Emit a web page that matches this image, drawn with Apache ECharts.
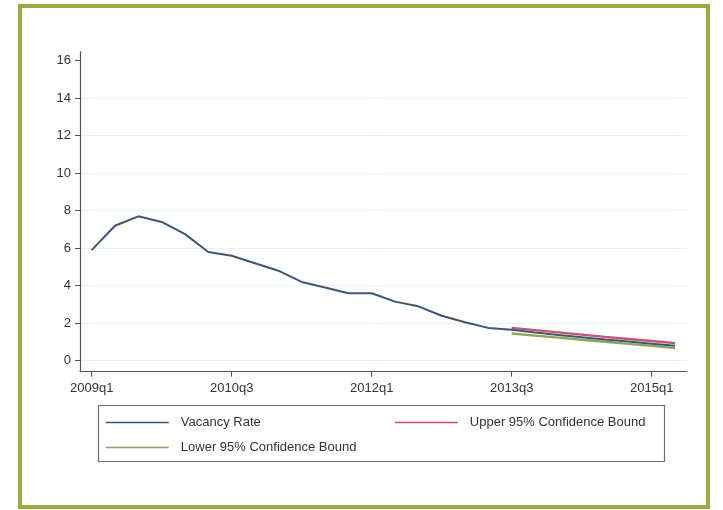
<!DOCTYPE html>
<html>
<head>
<meta charset="utf-8">
<script src="https://cdn.jsdelivr.net/npm/echarts@6/dist/echarts.min.js"></script>
<style>
html,body{margin:0;padding:0;background:#fff;}
#chart{width:723px;height:510px;}
</style>
</head>
<body>
<div id="chart"></div>
<script>
const categories = [
  '2009q1','2009q2','2009q3','2009q4',
  '2010q1','2010q2','2010q3','2010q4',
  '2011q1','2011q2','2011q3','2011q4',
  '2012q1','2012q2','2012q3','2012q4',
  '2013q1','2013q2','2013q3','2013q4',
  '2014q1','2014q2','2014q3','2014q4',
  '2015q1','2015q2'
];
const vacancyRate = [
  5.9, 7.2, 7.7, 7.4,
  6.75, 5.8, 5.6, 5.2,
  4.8, 4.2, 3.9, 3.6,
  3.6, 3.15, 2.9, 2.4,
  2.05, 1.75, 1.65, 1.5,
  1.37, 1.25, 1.13, 1.02,
  0.91, 0.8
];
const upperBound = [
  null, null, null, null, null, null, null, null, null,
  null, null, null, null, null, null, null, null, null,
  1.75, 1.63, 1.51, 1.39, 1.27, 1.16, 1.05, 0.94
];
const lowerBound = [
  null, null, null, null, null, null, null, null, null,
  null, null, null, null, null, null, null, null, null,
  1.45, 1.34, 1.23, 1.12, 1.01, 0.90, 0.79, 0.67
];
const yTicks = { min: 0, max: 16, step: 2 };

const FONT = "'Liberation Sans', Arial, sans-serif";
const chart = echarts.init(document.getElementById('chart'), null, { renderer: 'canvas' });

const legendCommon = {
  orient: 'vertical',
  top: 416,
  itemWidth: 63,
  itemHeight: 14,
  itemGap: 12,
  padding: 0,
  itemStyle: { opacity: 0, borderWidth: 0 },
  lineStyle: { width: 1.6 },
  textStyle: { fontFamily: FONT, fontSize: 13, color: '#333', padding: [0, 0, 0, 7] }
};

chart.setOption({
  animation: false,
  backgroundColor: '#fff',
  grid: [
    { left: 80, top: 60.7, width: 606.7, height: 300, containLabel: false },
    { left: 80.7, top: 51.7, width: 602.3, height: 320, containLabel: false }
  ],
  xAxis: [
    {
      type: 'category',
      gridIndex: 0,
      data: categories,
      boundaryGap: true,
      offset: 11,
      axisLine: { show: true, onZero: false, lineStyle: { color: '#555', width: 1.2 } },
      axisTick: { show: true, alignWithLabel: true, interval: 5, length: 5, lineStyle: { color: '#555' } },
      axisLabel: { interval: 5, margin: 10, fontFamily: FONT, fontSize: 13, color: '#333' },
      splitLine: { show: false }
    },
    {
      type: 'value',
      gridIndex: 1,
      show: false,
      min: 0, max: 1
    }
  ],
  yAxis: [
    {
      type: 'value',
      gridIndex: 0,
      min: yTicks.min,
      max: yTicks.max,
      interval: yTicks.step,
      axisLine: { show: false },
      axisTick: { show: true, length: 5, lineStyle: { color: '#555' } },
      axisLabel: { margin: 9, fontFamily: FONT, fontSize: 13, color: '#333' },
      splitLine: { show: true, showMaxLine: false, lineStyle: { color: '#eaf0f0', width: 1 } }
    },
    {
      type: 'value',
      gridIndex: 1,
      min: 0, max: 1,
      axisLine: { show: true, onZero: false, lineStyle: { color: '#555', width: 1.2 } },
      axisTick: { show: false },
      axisLabel: { show: false },
      splitLine: { show: false }
    }
  ],
  legend: [
    Object.assign({}, legendCommon, { left: 105, data: ['Vacancy Rate', 'Lower 95% Confidence Bound'] }),
    Object.assign({}, legendCommon, { left: 394, data: ['Upper 95% Confidence Bound'] })
  ],
  series: [
    {
      name: 'Upper 95% Confidence Bound',
      type: 'line',
      xAxisIndex: 0, yAxisIndex: 0,
      data: upperBound,
      symbol: 'none',
      color: '#c4566e',
      lineStyle: { width: 2.4, color: '#c4566e' }
    },
    {
      name: 'Lower 95% Confidence Bound',
      type: 'line',
      xAxisIndex: 0, yAxisIndex: 0,
      data: lowerBound,
      symbol: 'none',
      color: '#8ea35a',
      lineStyle: { width: 2.4, color: '#8ea35a' }
    },
    {
      name: 'Vacancy Rate',
      type: 'line',
      xAxisIndex: 0, yAxisIndex: 0,
      data: vacancyRate,
      symbol: 'none',
      color: '#3b5775',
      lineStyle: { width: 2, color: '#3b5775' }
    }
  ],
  graphic: [
    {
      type: 'rect',
      shape: { x: 20, y: 6, width: 688, height: 501 },
      style: { fill: 'none', stroke: '#9aad42', lineWidth: 4 },
      silent: true
    },
    {
      type: 'rect',
      shape: { x: 98.5, y: 405.5, width: 566, height: 56 },
      style: { fill: 'none', stroke: '#6e6e6e', lineWidth: 1.2 },
      silent: true
    }
  ]
});
</script>
</body>
</html>
